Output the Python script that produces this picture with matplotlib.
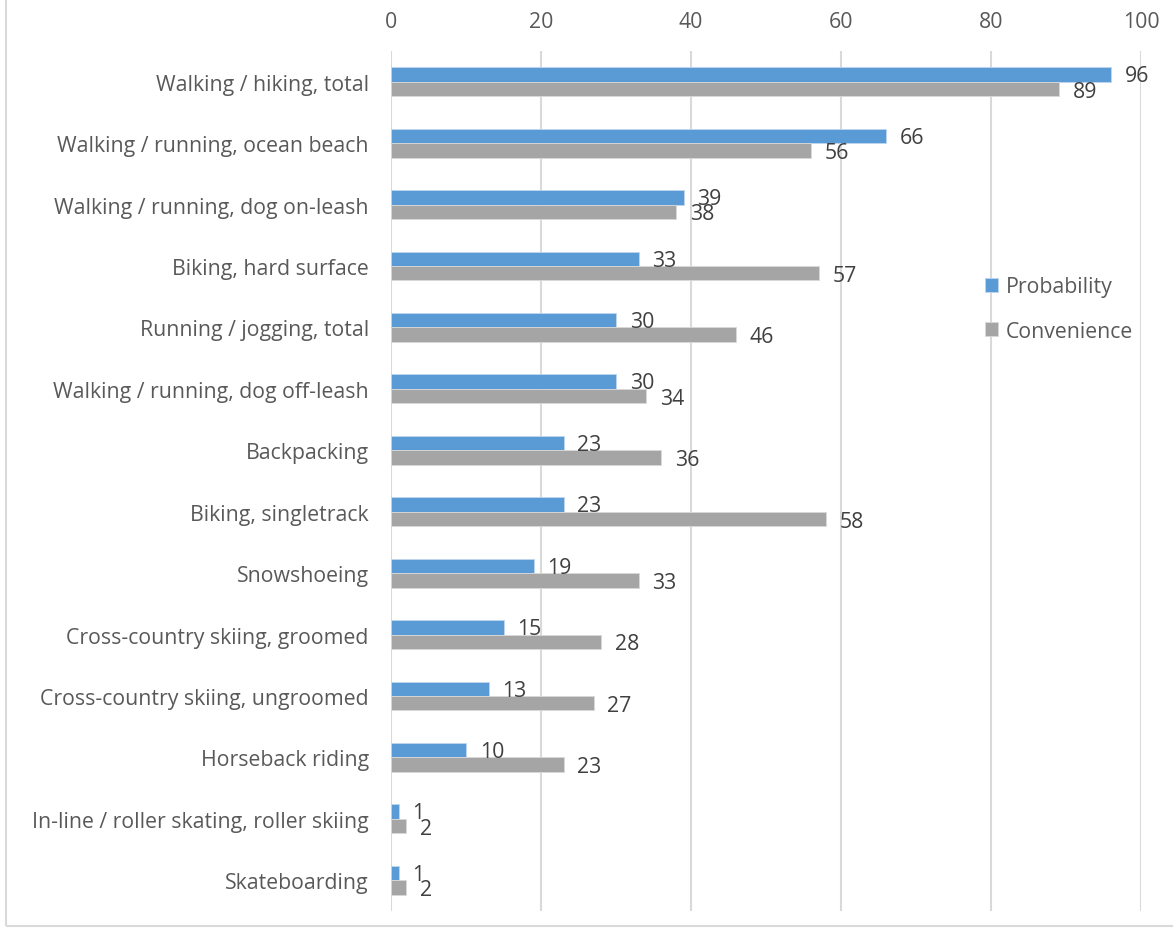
import matplotlib.pyplot as plt
import numpy as np
from matplotlib.patches import Rectangle

categories = [
    'Walking / hiking, total',
    'Walking / running, ocean beach',
    'Walking / running, dog on-leash',
    'Biking, hard surface',
    'Running / jogging, total',
    'Walking / running, dog off-leash',
    'Backpacking',
    'Biking, singletrack',
    'Snowshoeing',
    'Cross-country skiing, groomed',
    'Cross-country skiing, ungroomed',
    'Horseback riding',
    'In-line / roller skating, roller skiing',
    'Skateboarding',
]
probability = [96, 66, 39, 33, 30, 30, 23, 23, 19, 15, 13, 10, 1, 1]
convenience = [89, 56, 38, 57, 46, 34, 36, 58, 33, 28, 27, 23, 2, 2]
x_ticks = [0, 20, 40, 60, 80, 100]

plt.rcParams['font.family'] = ['Open Sans', 'DejaVu Sans']

blue = '#5b9bd5'
gray = '#a5a5a5'
tick_col = '#595959'
label_col = '#404040'
fs = 15.3

fig = plt.figure(figsize=(11.73, 9.29), dpi=100)
ax = fig.add_axes([391 / 1173, 1 - 912 / 929, 750 / 1173, 860 / 929])

# outer chart border (only left and bottom visible in the crop)
fig.patches.append(Rectangle((6 / 1173, 1 - 927 / 929), 1.2, 1.2, transform=fig.transFigure,
                             fill=False, edgecolor='#d9d9d9', linewidth=1.5))

y = np.arange(len(categories))
h = 0.236
ax.barh(y - h / 2, probability, height=h, color=blue, edgecolor='#bdd7ee', linewidth=0.6, label='Probability', zorder=3)
ax.barh(y + h / 2, convenience, height=h, color=gray, edgecolor='#d9d9d9', linewidth=0.6, label='Convenience', zorder=3)

for i in range(len(categories)):
    ax.annotate(str(probability[i]), (probability[i], y[i] - h / 2), xytext=(10, -1),
                textcoords='offset points', ha='left', va='center', fontsize=fs, color=label_col)
    ax.annotate(str(convenience[i]), (convenience[i], y[i] + h / 2), xytext=(10, -1.5),
                textcoords='offset points', ha='left', va='center', fontsize=fs, color=label_col)

ax.set_xlim(0, 100)
ax.set_ylim(len(categories) - 0.5, -0.5)
ax.set_xticks(x_ticks)
ax.set_yticks(y)
ax.set_yticklabels(categories)
ax.xaxis.tick_top()
ax.tick_params(axis='x', length=0, pad=14, labelsize=fs, labelcolor=tick_col)
ax.tick_params(axis='y', length=0, pad=16, labelsize=fs, labelcolor=tick_col)
ax.grid(axis='x', color='#d9d9d9', linewidth=1.5, zorder=0)
for s in ax.spines.values():
    s.set_visible(False)

leg = ax.legend(loc='upper left', bbox_to_anchor=(0.78, 0.748), frameon=False, fontsize=fs,
                handlelength=0.65, handleheight=0.65, handletextpad=0.35, labelspacing=1.1,
                labelcolor=tick_col, borderaxespad=0)

fig.savefig('out.png', dpi=100)
